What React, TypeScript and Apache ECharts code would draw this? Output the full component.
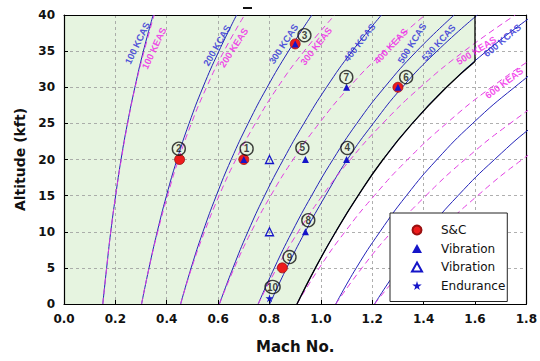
import React, { useEffect, useRef } from "react";
import * as echarts from "echarts";

// Altitude grid (kft) shared by all speed lines
const ALTITUDE_KFT = [0, 5, 10, 15, 20, 25, 30, 35, 40];

// Constant calibrated airspeed lines: Mach number at each altitude
const KCAS_100 = [0.151, 0.166, 0.182, 0.201, 0.222, 0.247, 0.276, 0.309, 0.347];
const KCAS_200 = [0.302, 0.331, 0.363, 0.399, 0.44, 0.487, 0.541, 0.603, 0.672];
const KCAS_300 = [0.454, 0.495, 0.541, 0.593, 0.651, 0.717, 0.791, 0.874, 0.965];
const KCAS_400 = [0.605, 0.658, 0.716, 0.781, 0.854, 0.934, 1.022, 1.122, 1.236];
const KCAS_500 = [0.756, 0.819, 0.888, 0.964, 1.047, 1.14, 1.248, 1.373, 1.519];
const KCAS_530 = [0.801, 0.867, 0.939, 1.018, 1.103, 1.204, 1.317, 1.452, 1.609];
const KCAS_600 = [0.907, 0.979, 1.058, 1.145, 1.242, 1.356, 1.489, 1.645, 1.828];
const KCAS_700 = [1.058, 1.138, 1.23, 1.333, 1.452, 1.591, 1.754, 1.94, 2.17];
const KCAS_800 = [1.209, 1.303, 1.411, 1.534, 1.676, 1.84, 2.04, 2.27, 2.52];

// Constant equivalent airspeed lines
const KEAS_100 = [0.151, 0.166, 0.182, 0.201, 0.223, 0.248, 0.277, 0.312, 0.351];
const KEAS_200 = [0.302, 0.331, 0.365, 0.403, 0.446, 0.496, 0.555, 0.623, 0.703];
const KEAS_300 = [0.454, 0.497, 0.547, 0.604, 0.669, 0.745, 0.832, 0.935, 1.054];
const KEAS_400 = [0.605, 0.663, 0.729, 0.805, 0.892, 0.993, 1.11, 1.247, 1.406];
const KEAS_500 = [0.756, 0.829, 0.912, 1.006, 1.115, 1.241, 1.387, 1.558, 1.757];
const KEAS_600 = [0.907, 0.994, 1.094, 1.208, 1.338, 1.489, 1.664, 1.87, 2.108];
const KEAS_700 = [1.058, 1.16, 1.276, 1.409, 1.561, 1.737, 1.942, 2.182, 2.46];
const KEAS_800 = [1.209, 1.326, 1.458, 1.61, 1.784, 1.985, 2.219, 2.493, 2.811];

const KCAS_LINES = [KCAS_100, KCAS_200, KCAS_300, KCAS_400, KCAS_500, KCAS_530, KCAS_600, KCAS_700, KCAS_800];
const KCAS_NAMES = ["100 KCAS", "200 KCAS", "300 KCAS", "400 KCAS", "500 KCAS", "530 KCAS", "600 KCAS", "700 KCAS", "800 KCAS"];
const KEAS_LINES = [KEAS_100, KEAS_200, KEAS_300, KEAS_400, KEAS_500, KEAS_600, KEAS_700, KEAS_800];
const KEAS_NAMES = ["100 KEAS", "200 KEAS", "300 KEAS", "400 KEAS", "500 KEAS", "600 KEAS", "700 KEAS", "800 KEAS"];

// Envelope boundary (600 KCAS up to the Mach limit, then Mach limit)
const BOUNDARY_MACH = [0.907, 0.979, 1.058, 1.145, 1.242, 1.356, 1.489, 1.601];
const BOUNDARY_ALT = [0, 5, 10, 15, 20, 25, 30, 33.6];
const MACH_LIMIT = 1.6;

// Test points [Mach, altitude kft]
const SC_POINTS = [[0.45, 20], [0.7, 20], [0.9, 36], [1.3, 30], [0.85, 5]];
const VIB_POINTS = [[0.7, 20], [0.9, 36], [1.3, 30], [1.1, 30], [0.94, 20], [1.1, 20], [0.94, 10]];
const VIB_OPEN_POINTS = [[0.8, 20], [0.8, 10]];
const ENDURANCE_POINTS = [[0.8, 0.8]];

// Numbered callouts
const CALLOUT_TEXT = ["1", "2", "3", "4", "5", "6", "7", "8", "9", "10"];
const CALLOUT_MACH = [0.711, 0.447, 0.936, 1.103, 0.928, 1.332, 1.099, 0.951, 0.878, 0.812];
const CALLOUT_ALT = [21.5, 21.5, 37.2, 21.6, 21.6, 31.4, 31.4, 11.6, 6.5, 2.35];

// Curve labels
const CURVE_LABEL_TEXT = ["100 KCAS", "100 KEAS", "200 KCAS", "200 KEAS", "300 KCAS", "300 KEAS", "400 KCAS", "400 KEAS", "500 KCAS", "530 KCAS", "500 KEAS", "600 KCAS", "600 KEAS"];
const CURVE_LABEL_MACH = [0.285, 0.35, 0.595, 0.66, 0.854, 0.981, 1.15, 1.272, 1.354, 1.458, 1.605, 1.706, 1.713];
const CURVE_LABEL_ALT = [36.1, 35.4, 35.8, 35.5, 36.0, 35.7, 36.2, 35.7, 36.1, 36.2, 35.1, 36.5, 30.6];
const CURVE_LABEL_ANGLE = [64, 65, 60, 57, 57, 52, 52, 47, 58, 48, 32, 40, 37];

const BLUE = "#2323b8";
const MAGENTA = "#e23ee2";
const GREEN = "#e6f4e0";
const AXIS_FONT = "'DejaVu Sans', sans-serif";
const LABEL_FONT = "Arial, 'Liberation Sans', sans-serif";
const STAR = "path://M50,0 L61,35 L98,35 L68,57 L79,91 L50,70 L21,91 L32,57 L2,35 L39,35 Z";

const zipLine = (mach: number[]) => mach.map((m, i) => [m, ALTITUDE_KFT[i]]);

export default function App() {
  const ref = useRef<HTMLDivElement>(null);

  useEffect(() => {
    if (!ref.current) return;
    const chart = echarts.init(ref.current, undefined, { renderer: "svg" });
    const boundary = BOUNDARY_MACH.map((m, i) => [m, BOUNDARY_ALT[i]]);
    const lastB = boundary[boundary.length - 1];

    const series: any[] = [];
    // white region beyond the envelope
    series.push({
      type: "line", data: boundary, smooth: true, symbol: "none", silent: true, z: 1,
      lineStyle: { width: 0 }, areaStyle: { color: "#ffffff", opacity: 1, origin: "start" },
    });
    series.push({
      type: "line", data: [[MACH_LIMIT, 0], [1.8, 0]], symbol: "none", silent: true, z: 1,
      lineStyle: { width: 0 }, areaStyle: { color: "#ffffff", opacity: 1, origin: "end" },
    });
    KCAS_LINES.forEach((l, i) => {
      series.push({
        type: "line", name: KCAS_NAMES[i], data: zipLine(l), smooth: true, symbol: "none", silent: true, z: 3,
        lineStyle: { color: BLUE, width: 1 },
      });
    });
    KEAS_LINES.forEach((l, i) => {
      series.push({
        type: "line", name: KEAS_NAMES[i], data: zipLine(l), smooth: true, symbol: "none", silent: true, z: 3,
        lineStyle: { color: MAGENTA, width: 1, type: [6, 4] },
      });
    });
    series.push({
      type: "line", data: boundary, smooth: true, symbol: "none", silent: true, z: 4,
      lineStyle: { color: "#000", width: 1.3 },
    });
    series.push({
      type: "line", data: [[MACH_LIMIT, lastB[1]], [MACH_LIMIT, 40]], symbol: "none", silent: true, z: 4,
      lineStyle: { color: "#000", width: 1.3 },
    });
    // curve labels
    series.push({
      type: "scatter", silent: true, z: 5, symbolSize: 1, itemStyle: { color: "transparent" },
      data: CURVE_LABEL_TEXT.map((t, i) => ({
        value: [CURVE_LABEL_MACH[i], CURVE_LABEL_ALT[i]],
        label: {
          show: true, position: "inside", formatter: t, rotate: CURVE_LABEL_ANGLE[i],
          color: t.indexOf("KCAS") >= 0 ? "#2a2ad6" : "#f020e8",
          fontFamily: LABEL_FONT, fontWeight: "bold", fontSize: 9.5,
        },
      })),
    });
    series.push({
      type: "scatter", name: "S&C", data: SC_POINTS, symbol: "circle", symbolSize: 10, z: 6,
      itemStyle: { color: "#ee1c1c", borderColor: "#9a1010", borderWidth: 0.8, opacity: 1 },
    });
    series.push({
      type: "scatter", name: "Vibration", data: VIB_POINTS, symbol: "triangle", symbolSize: 7, z: 7,
      itemStyle: { color: "#1515c8", opacity: 1 },
    });
    series.push({
      type: "scatter", name: "Vibration ", data: VIB_OPEN_POINTS, symbol: "triangle", symbolSize: 8, z: 7,
      itemStyle: { color: "rgba(255,255,255,0)", borderColor: "#1515c8", borderWidth: 1.3, opacity: 1 },
    });
    series.push({
      type: "scatter", name: "Endurance", data: ENDURANCE_POINTS, symbol: STAR, symbolSize: 8, z: 7,
      itemStyle: { color: "#1515c8", opacity: 1 },
    });
    series.push({
      type: "scatter", silent: true, z: 8, symbol: "circle", symbolSize: 13,
      itemStyle: { color: "rgba(255,255,255,0)", borderColor: "#111", borderWidth: 1.4 },
      data: CALLOUT_TEXT.map((t, i) => ({
        value: [CALLOUT_MACH[i], CALLOUT_ALT[i]],
        symbolSize: t.length > 1 ? [15, 13] : 13,
        label: {
          show: true, position: "inside", formatter: t, color: "#111",
          fontFamily: LABEL_FONT, fontWeight: "bold", fontSize: 10,
        },
      })),
    });

    const option: any = {
      animation: false,
      backgroundColor: "#ffffff",
      grid: { left: 64, right: 12, top: 15, bottom: 57, show: true, backgroundColor: GREEN, borderWidth: 0, z: 0 },
      legend: {
        data: ["S&C", "Vibration", "Vibration ", "Endurance"],
        formatter: (n: string) => n.trim(),
        orient: "vertical",
        left: 390, top: 213,
        padding: [11, 2, 10, 21],
        itemWidth: 10, itemHeight: 9, itemGap: 6.5,
        symbolKeepAspect: true,
        backgroundColor: "#ffffff", borderColor: "#222", borderWidth: 1,
        textStyle: { fontFamily: AXIS_FONT, fontSize: 12, color: "#111", padding: [0, 0, 0, 14] },
        selectedMode: false,
      },
      xAxis: [
        {
          type: "value", min: 0, max: 1.8, interval: 0.2, z: 2, position: "bottom",
          name: "Mach No.", nameLocation: "middle", nameGap: 35,
          nameTextStyle: { fontFamily: AXIS_FONT, fontWeight: "bold", fontSize: 15, color: "#111" },
          axisLine: { show: true, onZero: false, lineStyle: { color: "#000", width: 1.2 } },
          axisTick: { show: true, inside: true, length: 4, lineStyle: { color: "#000" } },
          axisLabel: {
            formatter: (v: number) => v.toFixed(1), margin: 9,
            fontFamily: AXIS_FONT, fontWeight: "bold", fontSize: 12, color: "#111",
          },
          splitLine: { show: true, lineStyle: { color: "#9a9a9a", width: 0.8, type: [3, 3] } },
        },
        {
          type: "value", min: 0, max: 1.8, interval: 0.2, z: 2, position: "top",
          axisLine: { show: true, onZero: false, lineStyle: { color: "#000", width: 1.2 } },
          axisTick: { show: false }, axisLabel: { show: false }, splitLine: { show: false },
        },
      ],
      yAxis: [
        {
          type: "value", min: 0, max: 40, interval: 5, z: 2, position: "left",
          name: "Altitude (kft)", nameLocation: "middle", nameGap: 31,
          nameTextStyle: { fontFamily: AXIS_FONT, fontWeight: "bold", fontSize: 14, color: "#111" },
          axisLine: { show: true, onZero: false, lineStyle: { color: "#000", width: 1.2 } },
          axisTick: { show: true, inside: true, length: 4, lineStyle: { color: "#000" } },
          axisLabel: { margin: 9, fontFamily: AXIS_FONT, fontWeight: "bold", fontSize: 12, color: "#111" },
          splitLine: { show: true, lineStyle: { color: "#9a9a9a", width: 0.8, type: [3, 3] } },
        },
        {
          type: "value", min: 0, max: 40, interval: 5, z: 2, position: "right",
          axisLine: { show: true, onZero: false, lineStyle: { color: "#000", width: 1.2 } },
          axisTick: { show: false }, axisLabel: { show: false }, splitLine: { show: false },
        },
      ],
      graphic: [
        { type: "rect", left: 243, top: 7, shape: { width: 9, height: 2 }, style: { fill: "#111" } },
      ],
      series,
    };
    chart.setOption(option);
    return () => chart.dispose();
  }, []);

  return <div ref={ref} style={{ position: "fixed", left: 0, top: 0, width: 540, height: 361 }} />;
}
